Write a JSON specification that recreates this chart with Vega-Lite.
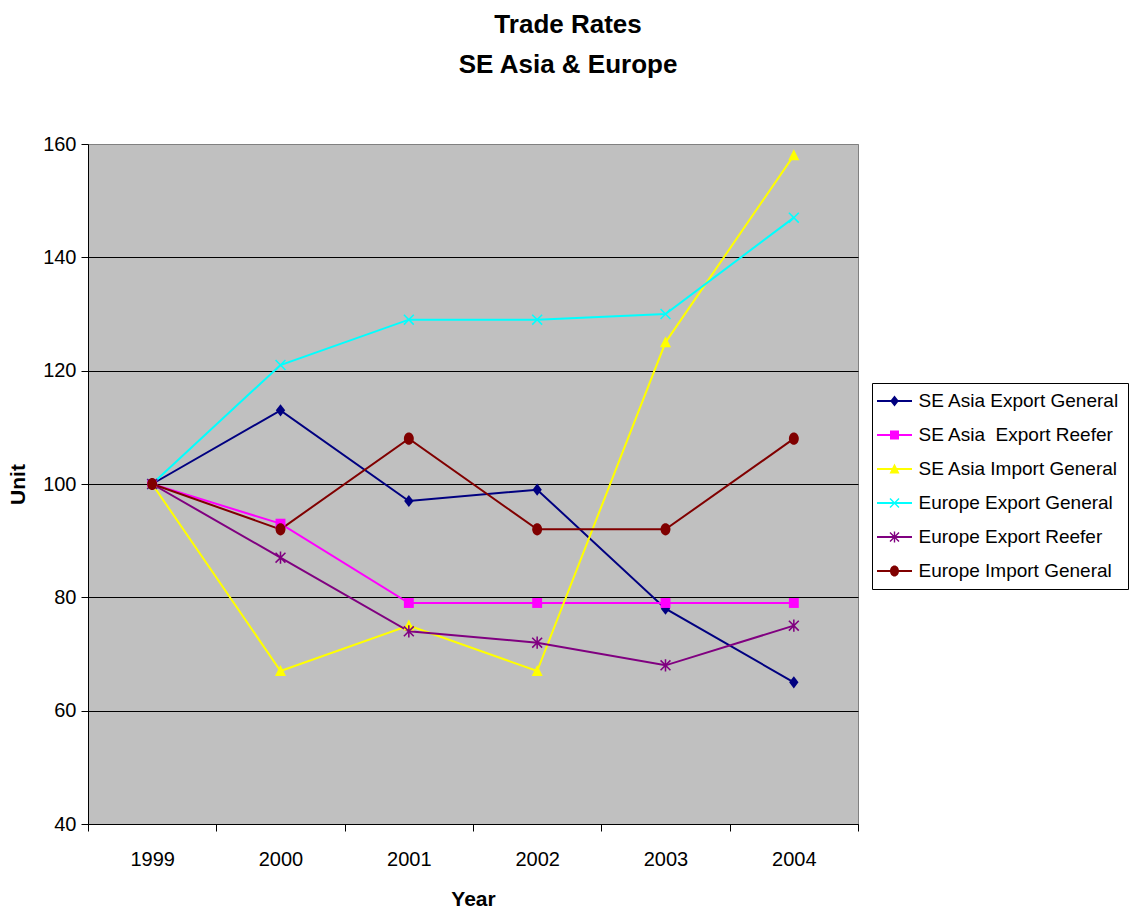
{
  "$schema": "https://vega.github.io/schema/vega-lite/v6.json",
  "width": 770,
  "height": 680,
  "autosize": {"type": "none"},
  "padding": {"left": 88, "top": 144, "right": 278, "bottom": 89},
  "background": "white",
  "title": {
    "text": ["Trade Rates", "SE Asia & Europe"],
    "font": "Liberation Sans, Arial, sans-serif",
    "fontSize": 26,
    "fontWeight": "bold",
    "lineHeight": 40,
    "color": "black",
    "frame": "bounds",
    "anchor": "middle",
    "offset": 56
  },
  "config": {
    "font": "Liberation Sans, Arial, sans-serif",
    "view": {"fill": "#C0C0C0", "stroke": "#808080", "strokeWidth": 1},
    "axis": {
      "labelFont": "Liberation Sans, Arial, sans-serif",
      "titleFont": "Liberation Sans, Arial, sans-serif",
      "labelFontSize": 20,
      "titleFontSize": 21,
      "titleFontWeight": "bold",
      "labelColor": "black",
      "titleColor": "black",
      "domainColor": "black",
      "tickColor": "black",
      "tickSize": 7
    }
  },
  "data": {
    "values": [
      {"year": "1999", "series": "SE Asia Export General", "value": 100},
      {"year": "2000", "series": "SE Asia Export General", "value": 113},
      {"year": "2001", "series": "SE Asia Export General", "value": 97},
      {"year": "2002", "series": "SE Asia Export General", "value": 99},
      {"year": "2003", "series": "SE Asia Export General", "value": 78},
      {"year": "2004", "series": "SE Asia Export General", "value": 65},
      {"year": "1999", "series": "SE Asia  Export Reefer", "value": 100},
      {"year": "2000", "series": "SE Asia  Export Reefer", "value": 93},
      {"year": "2001", "series": "SE Asia  Export Reefer", "value": 79},
      {"year": "2002", "series": "SE Asia  Export Reefer", "value": 79},
      {"year": "2003", "series": "SE Asia  Export Reefer", "value": 79},
      {"year": "2004", "series": "SE Asia  Export Reefer", "value": 79},
      {"year": "1999", "series": "SE Asia Import General", "value": 100},
      {"year": "2000", "series": "SE Asia Import General", "value": 67},
      {"year": "2001", "series": "SE Asia Import General", "value": 75},
      {"year": "2002", "series": "SE Asia Import General", "value": 67},
      {"year": "2003", "series": "SE Asia Import General", "value": 125},
      {"year": "2004", "series": "SE Asia Import General", "value": 158},
      {"year": "1999", "series": "Europe Export General", "value": 100},
      {"year": "2000", "series": "Europe Export General", "value": 121},
      {"year": "2001", "series": "Europe Export General", "value": 129},
      {"year": "2002", "series": "Europe Export General", "value": 129},
      {"year": "2003", "series": "Europe Export General", "value": 130},
      {"year": "2004", "series": "Europe Export General", "value": 147},
      {"year": "1999", "series": "Europe Export Reefer", "value": 100},
      {"year": "2000", "series": "Europe Export Reefer", "value": 87},
      {"year": "2001", "series": "Europe Export Reefer", "value": 74},
      {"year": "2002", "series": "Europe Export Reefer", "value": 72},
      {"year": "2003", "series": "Europe Export Reefer", "value": 68},
      {"year": "2004", "series": "Europe Export Reefer", "value": 75},
      {"year": "1999", "series": "Europe Import General", "value": 100},
      {"year": "2000", "series": "Europe Import General", "value": 92},
      {"year": "2001", "series": "Europe Import General", "value": 108},
      {"year": "2002", "series": "Europe Import General", "value": 92},
      {"year": "2003", "series": "Europe Import General", "value": 92},
      {"year": "2004", "series": "Europe Import General", "value": 108}
    ]
  },
  "encoding": {
    "x": {
      "field": "year",
      "type": "ordinal",
      "scale": {"type": "band", "paddingInner": 0, "paddingOuter": 0},
      "axis": {
        "title": "Year",
        "labelAngle": 0,
        "tickBand": "extent",
        "labelPadding": 18,
        "titlePadding": 19,
        "grid": false
      }
    },
    "y": {
      "field": "value",
      "type": "quantitative",
      "scale": {"domain": [40, 160], "nice": false, "zero": false},
      "axis": {
        "title": "Unit",
        "values": [40, 60, 80, 100, 120, 140, 160],
        "grid": true,
        "gridColor": {"condition": {"test": "datum.value == 160", "value": "#808080"}, "value": "black"},
        "gridOpacity": 1,
        "labelPadding": 5,
        "titlePadding": 14
      }
    }
  },
  "layer": [
    {
      "mark": {"type": "line", "strokeWidth": 2},
      "encoding": {
        "color": {
          "field": "series",
          "type": "nominal",
          "scale": {
            "domain": ["SE Asia Export General", "SE Asia  Export Reefer", "SE Asia Import General", "Europe Export General", "Europe Export Reefer", "Europe Import General"],
            "range": ["#000080", "#FF00FF", "#FFFF00", "#00FFFF", "#800080", "#800000"]
          },
          "legend": null
        },
        "detail": {"field": "series"}
      }
    },
    {
      "mark": {"type": "point", "filled": true, "size": 121, "opacity": 1, "strokeWidth": 0},
      "encoding": {
        "color": {
          "field": "series",
          "type": "nominal",
          "scale": {
            "domain": ["SE Asia Export General", "SE Asia  Export Reefer", "SE Asia Import General", "Europe Export General", "Europe Export Reefer", "Europe Import General"],
            "range": ["#000080", "#FF00FF", "#FFFF00", "#00FFFF", "#800080", "#800000"]
          },
          "legend": null
        },
        "shape": {
          "field": "series",
          "type": "nominal",
          "scale": {
            "domain": ["SE Asia Export General", "SE Asia  Export Reefer", "SE Asia Import General", "Europe Export General", "Europe Export Reefer", "Europe Import General"],
            "range": [
              "M0,-1.1L0.85,0L0,1.1L-0.85,0Z",
              "M-0.9,-0.9H0.9V0.9H-0.9Z",
              "M0,-1.1L1,0.9H-1Z",
              "M-1,-0.8L-0.8,-1L1,0.8L0.8,1Z M1,-0.8L-0.8,1L-1,0.8L0.8,-1Z",
              "M-1,-0.8L-0.8,-1L1,0.8L0.8,1Z M1,-0.8L-0.8,1L-1,0.8L0.8,-1Z M-0.14,-1.1H0.14V1.1H-0.14Z",
              "M-0.9,0A0.9,1.1,0,1,1,0.9,0A0.9,1.1,0,1,1,-0.9,0Z"
            ]
          },
          "legend": null
        }
      }
    },
    {
      "mark": {"type": "point", "filled": true, "size": 400, "opacity": 0, "strokeWidth": 0},
      "encoding": {
        "color": {
          "field": "series",
          "type": "nominal",
          "scale": {
            "domain": ["SE Asia Export General", "SE Asia  Export Reefer", "SE Asia Import General", "Europe Export General", "Europe Export Reefer", "Europe Import General"],
            "range": ["#000080", "#FF00FF", "#FFFF00", "#00FFFF", "#800080", "#800000"]
          },
          "legend": {
            "title": null,
            "orient": "none",
            "legendX": 784,
            "legendY": 239,
            "padding": 8,
            "rowPadding": 14,
            "symbolSize": 400,
            "symbolOffset": 4.5,
            "labelOffset": 14,
            "labelFontSize": 19,
            "labelFont": "Liberation Sans, Arial, sans-serif",
            "labelColor": "black",
            "labelLimit": 400,
            "labelExpr": "replace(datum.label, '  ', ' \u00a0')",
            "strokeColor": "black",
            "fillColor": "white",
            "symbolStrokeWidth": 0,
            "encode": {"symbols": {"update": {"opacity": {"value": 1}}}}
          }
        },
        "shape": {
          "field": "series",
          "type": "nominal",
          "scale": {
            "domain": ["SE Asia Export General", "SE Asia  Export Reefer", "SE Asia Import General", "Europe Export General", "Europe Export Reefer", "Europe Import General"],
            "range": [
              "M-1.75,-0.1H1.75V0.1H-1.75Z M0,-0.55L0.43,0L0,0.55L-0.43,0Z",
              "M-1.75,-0.1H1.75V0.1H-1.75Z M-0.45,-0.45H0.45V0.45H-0.45Z",
              "M-1.75,-0.1H1.75V0.1H-1.75Z M0,-0.55L0.5,0.45H-0.5Z",
              "M-1.75,-0.1H1.75V0.1H-1.75Z M-0.5,-0.4L-0.4,-0.5L0.5,0.4L0.4,0.5Z M0.5,-0.4L-0.4,0.5L-0.5,0.4L0.4,-0.5Z",
              "M-1.75,-0.1H1.75V0.1H-1.75Z M-0.5,-0.4L-0.4,-0.5L0.5,0.4L0.4,0.5Z M0.5,-0.4L-0.4,0.5L-0.5,0.4L0.4,-0.5Z M-0.07,-0.55H0.07V0.55H-0.07Z",
              "M-1.75,-0.1H1.75V0.1H-1.75Z M-0.45,0A0.45,0.55,0,1,1,0.45,0A0.45,0.55,0,1,1,-0.45,0Z"
            ]
          },
          "legend": {
            "title": null,
            "orient": "none",
            "legendX": 784,
            "legendY": 239,
            "padding": 8,
            "rowPadding": 14,
            "symbolSize": 400,
            "symbolOffset": 4.5,
            "labelOffset": 14,
            "labelFontSize": 19,
            "labelFont": "Liberation Sans, Arial, sans-serif",
            "labelColor": "black",
            "labelLimit": 400,
            "labelExpr": "replace(datum.label, '  ', ' \u00a0')",
            "strokeColor": "black",
            "fillColor": "white",
            "symbolStrokeWidth": 0,
            "encode": {"symbols": {"update": {"opacity": {"value": 1}}}}
          }
        }
      }
    }
  ],
  "resolve": {"scale": {"color": "independent", "shape": "independent"}}
}
